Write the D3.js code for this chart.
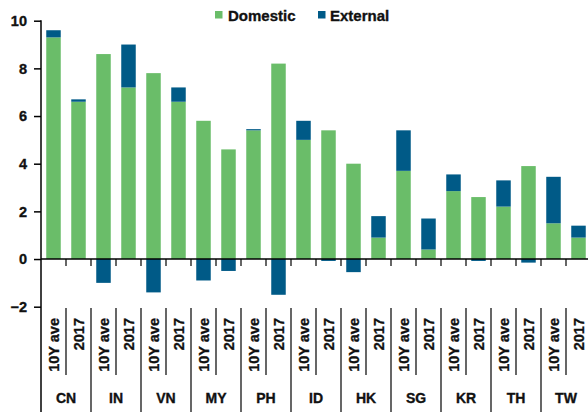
<!DOCTYPE html>
<html>
<head>
<meta charset="utf-8">
<script src="https://cdn.jsdelivr.net/npm/d3@7"></script>
<style>
  html, body { margin: 0; padding: 0; background: #fff; }
  svg { display: block; font-family: "Liberation Sans", Arial, sans-serif; font-weight: bold; }
  svg text { stroke: #111; stroke-width: 0.35px; }
</style>
</head>
<body>
<svg id="chart" width="588" height="412"></svg>
<script>
// Growth contributions by economy: 10-year average vs 2017
const countries = ["CN", "IN", "VN", "MY", "PH", "ID", "HK", "SG", "KR", "TH", "TW"];
const periods = ["10Y ave", "2017"];
const domestic = [9.3, 6.6, 8.6, 7.2, 7.8, 6.6, 5.8, 4.6, 5.4, 8.2, 5.0, 5.4, 4.0, 0.9, 3.7, 0.4, 2.85, 2.6, 2.2, 3.9, 1.5, 0.9];
const external = [0.3, 0.1, -1.0, 1.8, -1.4, 0.6, -0.9, -0.5, 0.05, -1.5, 0.8, -0.08, -0.55, 0.9, 1.7, 1.3, 0.7, -0.08, 1.1, -0.15, 1.95, 0.5];
const yTicks = [-2, 0, 2, 4, 6, 8, 10];
const seriesNames = ["Domestic", "External"];

const colors = { Domestic: "#6abd69", External: "#005a87" };

const svg = d3.select("#chart");

// one row per bar
const rows = [];
countries.forEach((c, i) => {
  periods.forEach((p, j) => {
    const k = i * periods.length + j;
    rows.push({ key: c + "|" + p, country: c, period: p, dom: domestic[k], ext: external[k] });
  });
});

const x = d3.scaleBand()
  .domain(rows.map(d => d.key))
  .range([41, 591])
  .paddingInner(0.42)
  .paddingOuter(0.21);

const y = d3.scaleLinear().domain([-2, 10]).range([306.7, 20.7]);

const g = svg.append("g");

// stacked bars: domestic from zero, external stacked above it or hanging below zero
const bars = g.selectAll("g.bar").data(rows).join("g").attr("class", "bar");
bars.append("rect")
  .attr("x", d => x(d.key))
  .attr("width", x.bandwidth())
  .attr("y", d => y(Math.max(d.dom, 0)))
  .attr("height", d => Math.abs(y(0) - y(d.dom)))
  .attr("fill", colors.Domestic);
bars.append("rect")
  .attr("x", d => x(d.key))
  .attr("width", x.bandwidth())
  .attr("y", d => d.ext >= 0 ? y(d.dom + d.ext) : y(0))
  .attr("height", d => d.ext >= 0 ? y(d.dom) - y(d.dom + d.ext) : y(d.ext) - y(0))
  .attr("fill", colors.External);

// y axis
const yAxis = d3.axisLeft(y).tickValues(yTicks).tickSize(7).tickPadding(7).tickFormat(d3.format("d"));
const ya = svg.append("g").attr("transform", "translate(41,0)").call(yAxis);
ya.select(".domain").remove();
ya.selectAll(".tick line").attr("stroke", "#000").attr("stroke-width", 1.5);
ya.selectAll(".tick text").attr("font-size", 14.5).attr("font-weight", "bold").attr("fill", "#111")
  .attr("font-family", "Liberation Sans, Arial, sans-serif");
svg.append("line").attr("x1", 41).attr("x2", 41).attr("y1", y(10) - 0.5).attr("y2", 412)
  .attr("stroke", "#000").attr("stroke-width", 1.5);

// zero line with ticks at band boundaries
const step = x.step();
const x0 = x.range()[0];
const bounds = d3.range(rows.length + 1).map(i => x0 + i * step);
svg.append("line").attr("x1", 41).attr("x2", 588).attr("y1", y(0)).attr("y2", y(0))
  .attr("stroke", "#000").attr("stroke-width", 1.5);
svg.selectAll("line.zt").data(bounds.slice(1)).join("line").attr("class", "zt")
  .attr("x1", d => d).attr("x2", d => d).attr("y1", y(0)).attr("y2", y(0) + 7)
  .attr("stroke", "#000").attr("stroke-width", 1.2);

// multi-level category axis below the plot
const labTop = 308;
svg.selectAll("line.sep").data(bounds.slice(1)).join("line").attr("class", "sep")
  .attr("x1", d => d).attr("x2", d => d)
  .attr("y1", labTop)
  .attr("y2", (d, i) => ((i + 1) % periods.length === 0) ? 412 : 375)
  .attr("stroke", "#000").attr("stroke-width", 1.2);

svg.selectAll("text.period").data(rows).join("text").attr("class", "period")
  .attr("transform", d => `translate(${x(d.key) + x.bandwidth() / 2},318) rotate(-90)`)
  .attr("text-anchor", "end")
  .attr("dy", "0.36em")
  .attr("font-size", 14.5)
  .attr("fill", "#111")
  .text(d => d.period);

svg.selectAll("text.country").data(countries).join("text").attr("class", "country")
  .attr("x", (d, i) => x0 + (i + 0.5) * step * periods.length)
  .attr("y", 403)
  .attr("text-anchor", "middle")
  .attr("font-size", 14)
  .attr("fill", "#111")
  .text(d => d);

// legend
const legendPos = [{ sq: 215, tx: 228 }, { sq: 318, tx: 330 }];
const leg = svg.selectAll("g.leg").data(seriesNames).join("g").attr("class", "leg");
leg.append("rect")
  .attr("x", (d, i) => legendPos[i].sq).attr("y", 11).attr("width", 7.5).attr("height", 7.5)
  .attr("fill", d => colors[d]);
leg.append("text")
  .attr("x", (d, i) => legendPos[i].tx).attr("y", 20.5)
  .attr("font-size", 15).attr("fill", "#111")
  .text(d => d);
</script>
</body>
</html>
